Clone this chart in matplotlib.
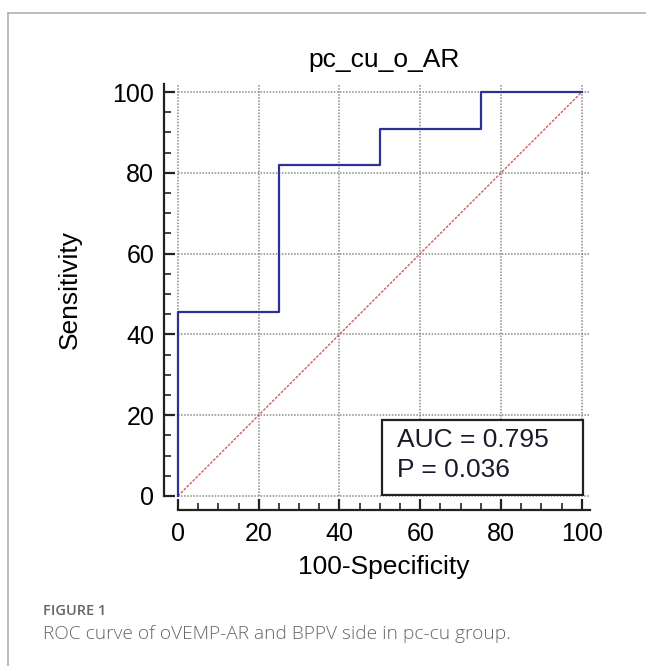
import matplotlib.pyplot as plt
from matplotlib.lines import Line2D
from matplotlib.patches import Rectangle
from matplotlib.ticker import MultipleLocator

# ROC step curve (11 positives, 4 negatives)
fpr = [0, 0, 25, 25, 50, 50, 75, 75, 100]
tpr = [0, 45.45, 45.45, 81.82, 81.82, 90.91, 90.91, 100, 100]
ticks = [0, 20, 40, 60, 80, 100]
title = "pc_cu_o_AR"
auc_text = "AUC = 0.795"
p_text = "P = 0.036"

plt.rcParams["font.family"] = ["Liberation Sans", "DejaVu Sans"]

fig = plt.figure(figsize=(6.46, 6.66), dpi=100)
ax = fig.add_axes([0.2755, 0.2553, 0.913 - 0.2755, 0.8739 - 0.2553])

ax.set_xlim(0, 102)
ax.set_ylim(0, 102)

# dotted grid
for v in ticks:
    ax.plot([v, v], [0, 102], color="#8a8a8a", lw=1.1, ls=(0, (1, 1)), zorder=1, clip_on=False)
    ax.plot([0, 102], [v, v], color="#8a8a8a", lw=1.1, ls=(0, (1, 1)), zorder=1, clip_on=False)

# chance line
ax.plot([0, 100], [0, 100], color="#d65a5a", lw=1.0, ls=(0, (2, 1)), zorder=2)
# ROC curve
ax.plot(fpr, tpr, color="#2e3192", lw=1.6, zorder=3, clip_on=False)

for side in ("top", "right"):
    ax.spines[side].set_visible(False)
for side in ("left", "bottom"):
    ax.spines[side].set_position(("outward", 10))
    ax.spines[side].set_linewidth(1.6)
    ax.spines[side].set_color("#222222")

ax.set_xticks(ticks)
ax.set_yticks(ticks)
ax.xaxis.set_minor_locator(MultipleLocator(5))
ax.yaxis.set_minor_locator(MultipleLocator(5))
ax.tick_params(which="major", direction="in", length=8, width=1.6, labelsize=18,
               pad=7, color="#222222")
ax.tick_params(axis="x", which="major", pad=9)
ax.tick_params(which="minor", direction="in", length=5, width=1.2, color="#222222")

ax.set_xlabel("100-Specificity", fontsize=19, labelpad=6)
ax.set_ylabel("Sensitivity", fontsize=19, labelpad=22)
ax.set_title(title, fontsize=19, pad=12)

# AUC box
ax.add_patch(Rectangle((50.6, 0.3), 49.7, 18.5, fc="white", ec="#222222", lw=1.6, zorder=4))
ax.text(54.3, 13.9, auc_text, fontsize=19, va="center", ha="left", color="#1a1a2a", zorder=5)
ax.text(54.3, 6.4, p_text, fontsize=19, va="center", ha="left", color="#1a1a2a", zorder=5)

# outer frame and caption
fig.add_artist(Line2D([8 / 646, 1], [1 - 13 / 666, 1 - 13 / 666], color="#b0b0b0", lw=1.2))
fig.add_artist(Line2D([8 / 646, 8 / 646], [0, 1 - 13 / 666], color="#b0b0b0", lw=1.2))
fig.text(43 / 646, 1 - 611 / 666, "FIGURE 1", fontsize=10.5, color="#666666",
         family=["Open Sans", "DejaVu Sans"], fontweight="semibold", va="center")
fig.text(43 / 646, 1 - 634 / 666, "ROC curve of oVEMP-AR and BPPV side in pc-cu group.",
         fontsize=13.8, color="#666666", family=["Open Sans", "DejaVu Sans"],
         fontweight="light", va="center")

fig.savefig("out.png", dpi=100)
